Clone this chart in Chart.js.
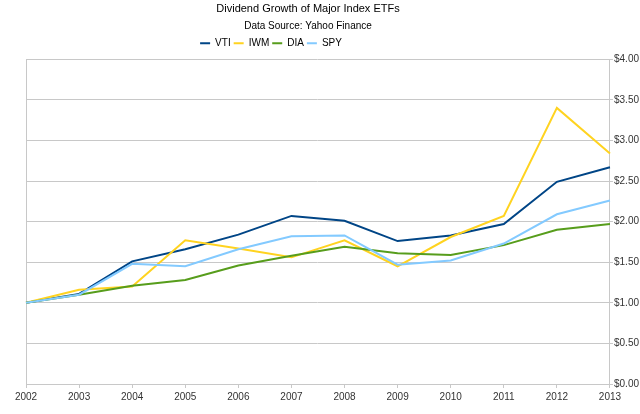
<!DOCTYPE html>
<html>
<head>
<meta charset="utf-8">
<script src="https://cdn.jsdelivr.net/npm/chart.js@4"></script>
<style>
  html,body{margin:0;padding:0;background:#fff;}
  #wrap{width:640px;height:414px;}
</style>
</head>
<body>
<div id="wrap"><canvas id="chart" width="640" height="414"></canvas></div>
<script>
const years=['2002','2003','2004','2005','2006','2007','2008','2009','2010','2011','2012','2013'];
const vti=[1.00,1.11,1.51,1.66,1.84,2.07,2.01,1.76,1.83,1.97,2.49,2.67];
const iwm=[1.00,1.16,1.20,1.77,1.67,1.56,1.77,1.45,1.81,2.07,3.40,2.84];
const dia=[1.00,1.10,1.21,1.28,1.46,1.58,1.69,1.61,1.59,1.71,1.90,1.97];
const spy=[1.00,1.10,1.48,1.45,1.66,1.82,1.83,1.47,1.52,1.73,2.09,2.26];
const yTicks=[0,0.5,1,1.5,2,2.5,3,3.5,4];

const font='"Liberation Sans", Arial, sans-serif';
const gridGrey='#c8c8c8';

// titles and legend sit left of centre in the original
const shiftHeader={id:'shiftHeader',afterLayout(chart){
  chart.boxes.forEach(b=>{
    let dx=0;
    if(b===chart.legend) dx=-62;
    else if(b.options && typeof b.options.text==='string') dx=-25;
    b.left+=dx; b.right+=dx;
  });
}};

const mk=(label,data,color,order)=>({label,data,borderColor:color,backgroundColor:color,
  borderWidth:2,pointRadius:0,tension:0,fill:false,order});

new Chart(document.getElementById('chart'),{
  type:'line',
  data:{labels:years,datasets:[
    mk('VTI',vti,'#004586',3),
    mk('IWM',iwm,'#ffd320',2),
    mk('DIA',dia,'#579d1c',1),
    mk('SPY',spy,'#83caff',0)
  ]},
  options:{
    responsive:false,animation:false,
    layout:{padding:{left:26,right:0,top:0,bottom:8}},
    plugins:{
      title:{display:true,text:'Dividend Growth of Major Index ETFs',color:'#000',
        font:{family:font,size:11,weight:'normal'},padding:{top:2,bottom:5}},
      subtitle:{display:true,text:'Data Source: Yahoo Finance',color:'#000',
        font:{family:font,size:10},padding:{top:0,bottom:3}},
      legend:{display:true,position:'top',
        labels:{usePointStyle:true,pointStyle:'line',pointStyleWidth:10,padding:3,color:'#000',
          font:{family:font,size:10},sort:(a,b)=>a.datasetIndex-b.datasetIndex}},
      tooltip:{enabled:false}
    },
    scales:{
      x:{type:'category',offset:false,
        grid:{color:c=>c.index===0?gridGrey:'rgba(0,0,0,0)',tickColor:gridGrey,tickLength:4,drawTicks:true},
        border:{color:gridGrey},
        ticks:{color:'#333',font:{family:font,size:10},padding:3,maxRotation:0,autoSkip:false}},
      top:{type:'category',position:'top',display:true,
        grid:{display:false},border:{display:false},ticks:{display:false},
        afterFit(s){s.height=1;}},
      y:{position:'right',min:0,max:4,
        afterBuildTicks(s){s.ticks=yTicks.map(v=>({value:v}));},
        grid:{color:gridGrey,tickColor:gridGrey,tickLength:3},
        border:{color:gridGrey},
        ticks:{color:'#333',font:{family:font,size:10},padding:1,
          callback:v=>'$'+Number(v).toFixed(2)}}
    }
  },
  plugins:[shiftHeader]
});
</script>
</body>
</html>
